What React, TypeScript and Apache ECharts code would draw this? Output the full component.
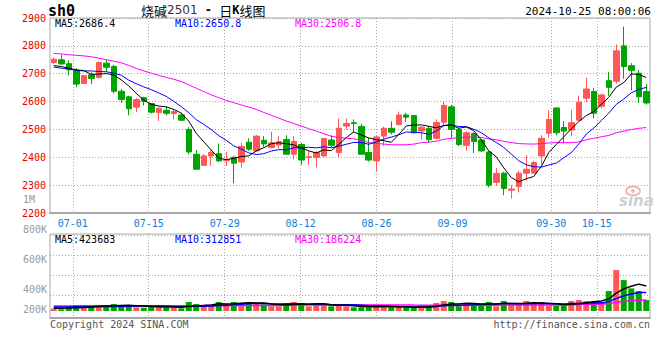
import React, { useEffect, useRef } from 'react';
import * as echarts from 'echarts';

// ---------- data ----------
const dates = [
  '06-26', '06-27', '06-28',
  '07-01', '07-02', '07-03', '07-04', '07-05',
  '07-08', '07-09', '07-10', '07-11', '07-12',
  '07-15', '07-16', '07-17', '07-18', '07-19',
  '07-22', '07-23', '07-24', '07-25', '07-26',
  '07-29', '07-30', '07-31', '08-01', '08-02',
  '08-05', '08-06', '08-07', '08-08', '08-09',
  '08-12', '08-13', '08-14', '08-15', '08-16',
  '08-19', '08-20', '08-21', '08-22', '08-23',
  '08-26', '08-27', '08-28', '08-29', '08-30',
  '09-02', '09-03', '09-04', '09-05', '09-06',
  '09-09', '09-10', '09-11', '09-12', '09-13',
  '09-18', '09-19', '09-20',
  '09-23', '09-24', '09-25', '09-26', '09-27',
  '09-30',
  '10-08', '10-09', '10-10', '10-11',
  '10-14', '10-15', '10-16', '10-17', '10-18',
  '10-21', '10-22', '10-23', '10-24',
];

const opens = [
  2740, 2750, 2736, 2711, 2665, 2696, 2687, 2738, 2726, 2637,
  2617, 2580, 2614, 2593, 2560, 2569, 2557, 2552, 2500, 2411,
  2371, 2405, 2413, 2388, 2400, 2383, 2454, 2423, 2461, 2435,
  2444, 2464, 2411, 2446, 2399, 2399, 2405, 2462, 2417, 2512,
  2524, 2511, 2417, 2387, 2476, 2504, 2518, 2552, 2550, 2494,
  2504, 2468, 2526, 2581, 2500, 2443, 2485, 2462, 2419, 2310,
  2343, 2282, 2295, 2343, 2343, 2405, 2486, 2577, 2507, 2498,
  2533, 2612, 2636, 2583, 2675, 2673, 2800, 2729, 2702, 2636,
];
const closes = [
  2752, 2735, 2714, 2663, 2693, 2683, 2740, 2723, 2637, 2607,
  2574, 2607, 2601, 2562, 2576, 2558, 2564, 2533, 2419, 2357,
  2405, 2417, 2387, 2392, 2379, 2439, 2429, 2476, 2448, 2452,
  2456, 2411, 2457, 2390, 2402, 2417, 2467, 2443, 2504, 2521,
  2521, 2411, 2390, 2473, 2504, 2490, 2552, 2544, 2488, 2508,
  2464, 2525, 2586, 2500, 2446, 2488, 2457, 2423, 2300, 2342,
  2288, 2286, 2343, 2357, 2381, 2468, 2536, 2488, 2494, 2524,
  2598, 2645, 2558, 2624, 2651, 2782, 2726, 2712, 2617, 2595,
];
const lows = [
  2735, 2732, 2694, 2651, 2663, 2663, 2683, 2708, 2629, 2595,
  2551, 2562, 2586, 2557, 2530, 2550, 2536, 2531, 2411, 2355,
  2369, 2369, 2383, 2369, 2307, 2363, 2423, 2420, 2437, 2432,
  2432, 2411, 2393, 2373, 2373, 2364, 2402, 2437, 2402, 2500,
  2488, 2411, 2385, 2351, 2440, 2482, 2514, 2527, 2486, 2464,
  2452, 2464, 2512, 2468, 2440, 2423, 2415, 2419, 2292, 2298,
  2264, 2252, 2274, 2315, 2343, 2375, 2470, 2479, 2450, 2476,
  2533, 2598, 2540, 2574, 2621, 2664, 2682, 2640, 2595, 2589,
];
const highs = [
  2758, 2768, 2748, 2720, 2695, 2705, 2744, 2750, 2732, 2645,
  2621, 2612, 2617, 2595, 2580, 2583, 2571, 2560, 2508, 2426,
  2411, 2425, 2449, 2420, 2405, 2452, 2468, 2480, 2476, 2492,
  2476, 2479, 2476, 2452, 2423, 2423, 2470, 2479, 2539, 2539,
  2536, 2520, 2470, 2479, 2510, 2529, 2564, 2560, 2552, 2512,
  2512, 2536, 2600, 2588, 2506, 2493, 2490, 2464, 2421, 2361,
  2348, 2301, 2351, 2408, 2387, 2479, 2569, 2577, 2530, 2571,
  2621, 2685, 2649, 2629, 2706, 2805, 2869, 2738, 2714, 2663,
];
const volumes = [
  39000, 28000, 67000, 101000, 67000, 67000, 101000, 84000, 118000, 101000,
  79000, 62000, 55000, 84000, 84000, 55000, 55000, 45000, 152000, 118000,
  96000, 101000, 152000, 118000, 152000, 135000, 135000, 135000, 113000, 79000,
  79000, 118000, 152000, 135000, 79000, 118000, 118000, 79000, 96000, 79000,
  62000, 62000, 62000, 101000, 62000, 62000, 79000, 62000, 62000, 79000,
  62000, 135000, 168000, 152000, 79000, 118000, 118000, 118000, 152000, 79000,
  168000, 118000, 118000, 168000, 118000, 152000, 84000, 84000, 84000, 168000,
  185000, 168000, 168000, 152000, 337000, 691000, 522000, 382000, 337000, 185000,
];

// moving-average values before a full window exists
const priceMa5Head = [2729, 2726, 2720, 2714];
const priceMa10Head = [2724, 2720, 2717, 2712, 2710, 2710, 2708, 2707, 2702];
const priceMa30Head = [
  2773, 2771, 2768, 2766, 2764, 2761, 2756, 2750, 2745, 2739,
  2730, 2719, 2710, 2702, 2694, 2687, 2680, 2672, 2660, 2648,
  2636, 2624, 2614, 2604, 2596, 2588, 2580, 2572, 2561,
];
const volMa5Head = [45000, 46000, 50000, 56000];
const volMa10Head = [68000, 68000, 69000, 70000, 71000, 72000, 73000, 74000, 75000];
const volMa30Head = [
  86000, 86000, 86000, 87000, 87000, 87000, 87000, 88000, 88000, 88000,
  88000, 88000, 89000, 89000, 89000, 89000, 90000, 90000, 90000, 90000,
  91000, 91000, 91000, 91000, 92000, 92000, 92000, 92000, 92000,
];

const dateTicks = ['07-01', '07-15', '07-29', '08-12', '08-26', '09-09', '09-30', '10-15'];
const volTickLabels = ['200K', '', '400K', '', '', '600K', '', '', '800K', '', '', '1M'];

const priceLegend = ['MA5:2686.4', 'MA10:2650.8', 'MA30:2506.8'];
const volLegend = ['MA5:423683', 'MA10:312851', 'MA30:186224'];

// ---------- helpers ----------
function movingAverage(values: number[], n: number, head: number[]) {
  return values.map((_, i) => {
    if (i < n - 1) return head[i];
    let s = 0;
    for (let k = i - n + 1; k <= i; k++) s += values[k];
    return +(s / n).toFixed(2);
  });
}

const RED = '#ff5656';
const GREEN = '#00a400';
const MONO = '"DejaVu Sans Mono", monospace';
const GRIDC = '#a8a8a8';
const tickSet = new Set(dateTicks);
const showTick = (_i: number, v: string) => tickSet.has(v);

export default function App() {
  const ref = useRef<HTMLDivElement>(null);

  useEffect(() => {
    if (!ref.current) return;
    const chart = echarts.init(ref.current, undefined, { renderer: 'svg' });

    const candleData = dates.map((_, i) => [opens[i], closes[i], lows[i], highs[i]]);
    const volData = volumes.map((v, i) => ({
      value: v,
      itemStyle: { color: closes[i] >= opens[i] ? RED : GREEN },
    }));

    const legendText = (txt: string, x: number, y: number, color: string) => ({
      type: 'text',
      x,
      y,
      z: 100,
      style: {
        text: txt,
        fill: color,
        font: `10px ${MONO}`,
        textVerticalAlign: 'middle',
        verticalAlign: 'middle',
      },
    });

    const option: any = {
      animation: false,
      backgroundColor: '#ffffff',
      textStyle: { fontFamily: MONO },
      grid: [
        { left: 50, top: 18, width: 600, height: 195, show: true, borderColor: GRIDC, borderWidth: 1 },
        { left: 50, top: 234, width: 600, height: 77 },
        { left: 50, top: 234, width: 600, height: 84, show: true, borderColor: GRIDC, borderWidth: 1 },
        { left: 50, top: 235.3, width: 600, height: 60 },
        { left: 50, top: 194.7, width: 600, height: 120 },
      ],
      xAxis: [
        { type: 'category', gridIndex: 0, data: dates, boundaryGap: true, show: false, position: 'top' },
        {
          type: 'category', gridIndex: 0, data: dates, boundaryGap: false, position: 'bottom',
          axisLine: { show: true, lineStyle: { color: GRIDC, width: 2 } },
          axisTick: { show: false },
          axisLabel: { interval: showTick, color: '#0a7fd2', fontSize: 10, fontFamily: MONO, margin: 5 },
          splitLine: { show: true, interval: showTick, lineStyle: { color: GRIDC, width: 1, type: [1, 2] } },
        },
        { type: 'category', gridIndex: 1, data: dates, boundaryGap: true, show: false },
        {
          type: 'category', gridIndex: 2, data: dates, boundaryGap: false,
          axisLine: { show: true, lineStyle: { color: GRIDC, width: 2 } },
          axisTick: { show: false },
          axisLabel: { show: false },
          splitLine: { show: true, interval: showTick, lineStyle: { color: GRIDC, width: 1, type: [1, 2] } },
        },
        { type: 'value', gridIndex: 3, show: false },
        { type: 'value', gridIndex: 4, show: false },
      ],
      yAxis: [
        {
          type: 'value', gridIndex: 0, min: 2200, max: 2900, interval: 100,
          axisLine: { show: false }, axisTick: { show: false },
          axisLabel: {
            color: '#e00000', fontSize: 10, fontFamily: MONO, margin: 4,
            formatter: (v: number) => String(v),
          },
          splitLine: { show: true, lineStyle: { color: GRIDC, width: 1, type: [1, 2] } },
        },
        { type: 'value', gridIndex: 1, min: 0, max: 1300000, show: false },
        { type: 'value', gridIndex: 2, min: 0, max: 1, show: false },
        {
          type: 'value', gridIndex: 3, min: 0, max: 60, interval: 20,
          axisLine: { show: false }, axisTick: { show: false }, axisLabel: { show: false },
          splitLine: { show: true, lineStyle: { color: GRIDC, width: 1, type: [1, 2] } },
        },
        {
          type: 'category', gridIndex: 4, data: volTickLabels,
          axisLine: { show: false }, axisTick: { show: false }, splitLine: { show: false },
          axisLabel: { interval: 0, color: '#9a9a9a', fontSize: 10, fontFamily: MONO, align: 'left', margin: 27 },
        },
      ],
      series: [
        {
          type: 'candlestick', xAxisIndex: 0, yAxisIndex: 0, data: candleData, barWidth: 6,
          itemStyle: { color: RED, color0: GREEN, borderColor: RED, borderColor0: GREEN, borderWidth: 1 },
        },
        {
          type: 'line', xAxisIndex: 0, yAxisIndex: 0, data: movingAverage(closes, 30, priceMa30Head),
          symbol: 'none', lineStyle: { color: '#ff00ff', width: 1 },
        },
        {
          type: 'line', xAxisIndex: 0, yAxisIndex: 0, data: movingAverage(closes, 10, priceMa10Head),
          symbol: 'none', lineStyle: { color: '#0000ff', width: 1 },
        },
        {
          type: 'line', xAxisIndex: 0, yAxisIndex: 0, data: movingAverage(closes, 5, priceMa5Head),
          symbol: 'none', lineStyle: { color: '#000000', width: 1 },
        },
        { type: 'bar', xAxisIndex: 2, yAxisIndex: 1, data: volData, barWidth: 6 },
        {
          type: 'line', xAxisIndex: 2, yAxisIndex: 1, data: movingAverage(volumes, 30, volMa30Head),
          symbol: 'none', lineStyle: { color: '#ff00ff', width: 1.5 },
        },
        {
          type: 'line', xAxisIndex: 2, yAxisIndex: 1, data: movingAverage(volumes, 10, volMa10Head),
          symbol: 'none', lineStyle: { color: '#0000ff', width: 1.5 },
        },
        {
          type: 'line', xAxisIndex: 2, yAxisIndex: 1, data: movingAverage(volumes, 5, volMa5Head),
          symbol: 'none', lineStyle: { color: '#000000', width: 1.5 },
        },
      ],
      graphic: [
        {
          type: 'text', x: 48, y: 11,
          style: { text: 'sh0', fill: '#000', font: `bold 15px ${MONO}`, textVerticalAlign: 'middle', verticalAlign: 'middle' },
        },
        {
          type: 'text', x: 141, y: 10,
          style: {
            text: '{a|烧碱}{b|2501}{c| - }{a|日}{c|K}{a|线图}',
            textVerticalAlign: 'middle', verticalAlign: 'middle',
            rich: {
              a: { fontSize: 13, lineHeight: 14, fontFamily: '"Noto Sans CJK SC", sans-serif', fill: '#000', color: '#000' },
              b: { fontSize: 12, lineHeight: 14, fontFamily: '"DejaVu Sans", sans-serif', fill: '#333', color: '#333' },
              c: { fontSize: 12, lineHeight: 14, fontFamily: MONO, fill: '#000', color: '#000', fontWeight: 'bold' },
            },
          },
        },
        {
          type: 'text', x: 651, y: 11,
          style: {
            text: '2024-10-25 08:00:06', fill: '#000', font: `11px ${MONO}`,
            textAlign: 'right', align: 'right', textVerticalAlign: 'middle', verticalAlign: 'middle',
          },
        },
        legendText(priceLegend[0], 55, 23.5, '#000000'),
        legendText(priceLegend[1], 175, 23.5, '#0000ff'),
        legendText(priceLegend[2], 295, 23.5, '#ff00ff'),
        legendText(volLegend[0], 55, 239, '#000000'),
        legendText(volLegend[1], 175, 239, '#0000ff'),
        legendText(volLegend[2], 295, 239, '#ff00ff'),
        {
          type: 'text', x: 50, y: 324,
          style: { text: 'Copyright 2024 SINA.COM', fill: '#555', font: `10px ${MONO}`, textVerticalAlign: 'middle', verticalAlign: 'middle' },
        },
        {
          type: 'text', x: 650, y: 324,
          style: {
            text: 'http://finance.sina.com.cn', fill: '#555', font: `10px ${MONO}`,
            textAlign: 'right', align: 'right', textVerticalAlign: 'middle', verticalAlign: 'middle',
          },
        },
        {
          type: 'ellipse', z: 1,
          shape: { cx: 633, cy: 191, rx: 7, ry: 4.5 },
          style: { fill: 'none', stroke: '#f1b4b4', lineWidth: 2 },
        },
        {
          type: 'circle', z: 1,
          shape: { cx: 633, cy: 191, r: 2 },
          style: { fill: '#f1b4b4' },
        },
        {
          type: 'text', x: 619, y: 201, z: 1,
          style: {
            text: 'sina', fill: '#cfcfcf', font: `italic bold 15px "DejaVu Sans", sans-serif`,
            textVerticalAlign: 'middle', verticalAlign: 'middle',
          },
        },
      ],
    };

    chart.setOption(option);
    return () => chart.dispose();
  }, []);

  return (
    <div
      ref={ref}
      style={{ position: 'fixed', left: 0, top: 0, width: 660, height: 360, background: '#fff' }}
    />
  );
}
